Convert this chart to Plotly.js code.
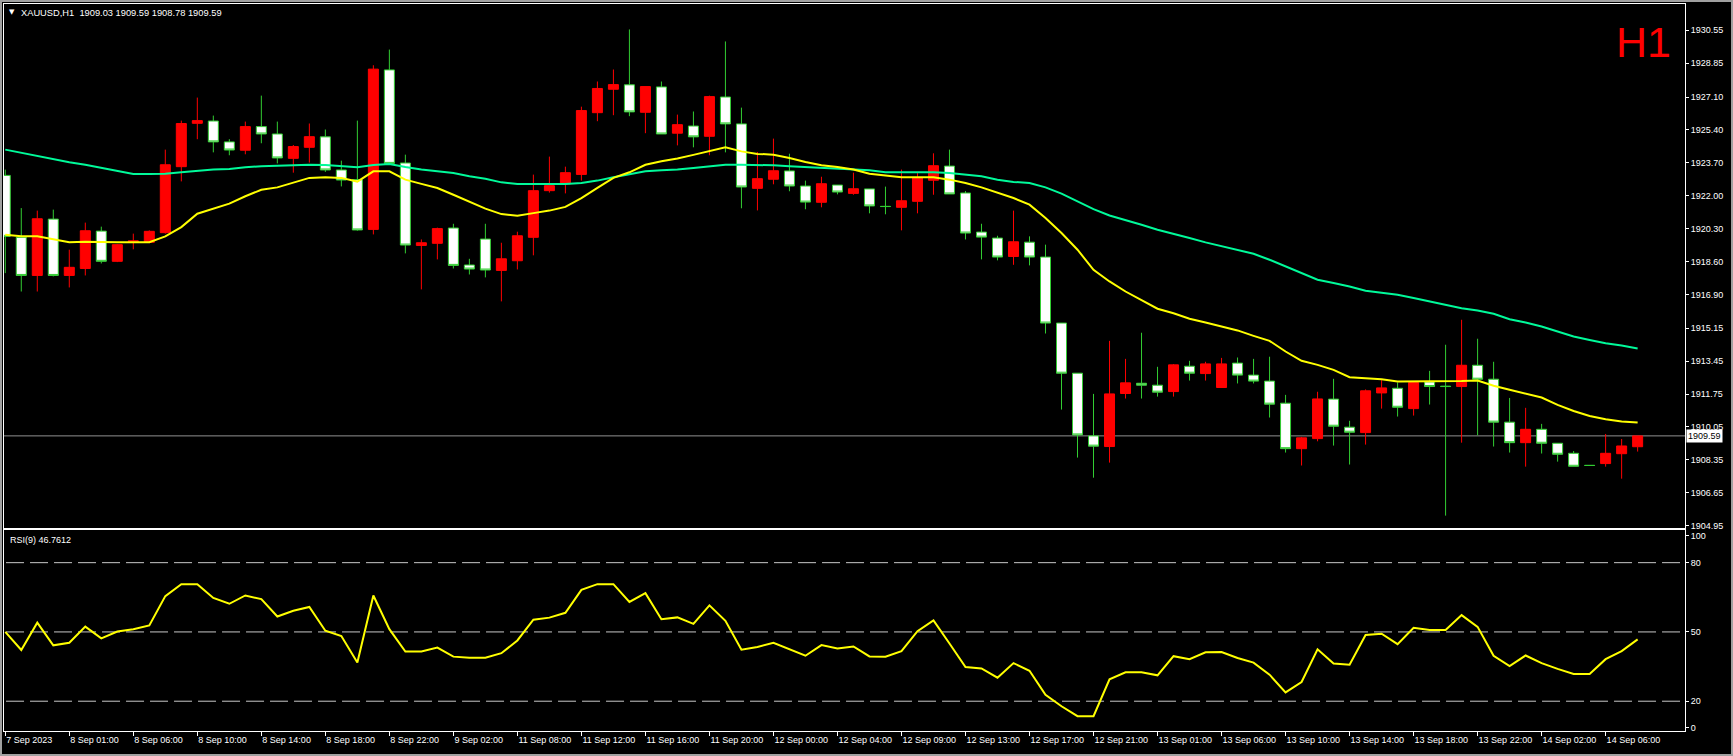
<!DOCTYPE html>
<html><head><meta charset="utf-8">
<script src="https://cdn.plot.ly/plotly-3.0.1.min.js"></script>
<style>
html,body{margin:0;padding:0;background:#000;overflow:hidden}
#wrap{position:relative;width:1733px;height:756px}
#chart{width:1733px;height:756px}
#frame{position:absolute;left:0;top:0;width:1733px;height:756px;box-sizing:border-box;border:2px solid #a0a0a0;pointer-events:none}
</style></head><body>
<div id="wrap"><div id="chart"></div><div id="frame"></div></div>
<script>
const symbolName = 'XAUUSD,H1';
const periodName = 'H1';

const openP = [
1923.05,1919.85,1917.88,1920.79,1917.88,1918.24,1920.17,1918.61,1919.59,1919.59,
1920.09,1923.50,1925.74,1925.86,1924.78,1924.35,1925.57,1925.19,1923.93,1924.50,
1925.04,1923.33,1922.83,1920.26,1928.50,1923.69,1919.43,1919.54,1920.33,1918.42,
1919.76,1918.14,1918.64,1919.85,1922.26,1922.61,1923.10,1926.29,1927.50,1927.73,
1926.31,1927.62,1925.23,1925.60,1925.07,1927.10,1925.71,1922.38,1922.85,1923.28,
1922.50,1921.66,1922.55,1922.12,1922.35,1921.45,1921.40,1921.71,1922.80,1923.53,
1922.14,1920.12,1919.81,1918.86,1919.60,1918.83,1915.42,1912.83,1909.59,1909.04,
1911.78,1912.31,1912.21,1911.88,1913.19,1912.81,1912.09,1913.35,1912.73,1912.42,
1911.28,1908.93,1909.45,1911.49,1910.04,1909.76,1911.81,1912.05,1911.00,1912.38,
1912.16,1912.14,1913.24,1912.52,1910.30,1909.24,1909.93,1909.21,1908.69,1908.07,
1908.16,1908.67,1909.03];

const highP = [
1923.35,1921.36,1921.23,1921.28,1919.21,1920.61,1920.40,1919.50,1920.04,1920.21,
1924.38,1925.88,1927.07,1926.14,1924.92,1925.83,1927.17,1925.83,1924.62,1925.73,
1925.42,1923.81,1925.88,1928.74,1929.55,1924.12,1919.74,1920.35,1920.55,1918.74,
1920.55,1919.57,1920.14,1923.09,1924.02,1923.50,1926.60,1927.90,1928.52,1930.59,
1927.64,1927.90,1926.19,1926.35,1927.17,1929.97,1926.55,1924.26,1924.95,1924.17,
1922.78,1922.98,1922.55,1923.19,1922.35,1922.47,1923.35,1923.17,1924.19,1924.38,
1922.24,1920.55,1919.93,1921.23,1919.90,1919.47,1915.42,1912.83,1911.76,1914.50,
1913.57,1914.92,1913.16,1913.30,1913.47,1913.42,1913.62,1913.64,1913.57,1913.68,
1911.71,1909.54,1911.87,1912.54,1910.37,1911.99,1912.47,1912.35,1912.42,1912.95,
1914.30,1915.59,1914.61,1913.42,1911.55,1911.04,1910.21,1909.21,1908.81,1908.07,
1909.69,1909.43,1909.59];

const lowP = [
1918.00,1917.05,1917.05,1917.83,1917.26,1917.88,1918.50,1918.57,1919.23,1919.55,
1920.04,1922.74,1924.92,1924.24,1924.09,1924.14,1924.71,1923.67,1923.19,1923.71,
1923.23,1922.48,1920.19,1920.00,1923.67,1919.02,1917.16,1918.71,1918.24,1917.93,
1917.78,1916.54,1918.19,1918.92,1922.16,1922.12,1922.78,1925.85,1926.16,1926.11,
1925.23,1925.19,1924.60,1924.50,1924.09,1924.24,1921.35,1921.24,1922.59,1922.23,
1921.30,1921.40,1922.07,1922.05,1921.09,1921.04,1920.21,1921.09,1922.05,1922.09,
1919.74,1918.71,1918.66,1918.43,1918.40,1914.88,1910.95,1908.47,1907.43,1908.21,
1911.52,1911.52,1911.62,1911.62,1912.45,1912.45,1912.09,1912.30,1912.30,1910.54,
1908.73,1908.06,1909.31,1909.09,1908.11,1909.14,1911.00,1910.59,1910.64,1911.21,
1905.47,1909.24,1909.62,1909.04,1908.73,1908.00,1908.68,1908.26,1908.02,1908.05,
1908.00,1907.38,1908.78];

const closeP = [
1919.90,1917.88,1920.81,1917.88,1918.30,1920.19,1918.61,1919.47,1919.67,1920.16,
1923.60,1925.73,1925.88,1924.78,1924.36,1925.57,1925.19,1923.95,1924.54,1925.05,
1923.33,1922.81,1920.23,1928.54,1923.67,1919.45,1919.57,1920.30,1918.40,1918.21,
1918.16,1918.74,1919.93,1922.26,1922.52,1923.19,1926.40,1927.54,1927.74,1926.33,
1927.64,1925.19,1925.67,1925.04,1927.12,1925.71,1922.45,1922.88,1923.29,1922.50,
1921.67,1922.62,1922.19,1922.36,1921.47,1921.44,1921.74,1922.92,1923.55,1922.09,
1920.07,1919.86,1918.83,1919.62,1918.83,1915.42,1912.83,1909.64,1909.06,1911.76,
1912.33,1912.21,1911.85,1913.26,1912.83,1913.31,1913.31,1912.73,1912.42,1911.23,
1908.93,1909.49,1911.50,1910.09,1909.78,1911.92,1912.07,1911.07,1912.35,1912.14,
1912.14,1913.24,1912.52,1910.30,1909.24,1909.93,1909.21,1908.64,1908.02,1908.06,
1908.69,1909.07,1909.59];

const maFast = [
1919.98,1919.90,1919.90,1919.76,1919.59,1919.62,1919.59,1919.59,1919.59,1919.60,
1919.90,1920.38,1921.07,1921.31,1921.59,1921.97,1922.31,1922.43,1922.66,1922.92,
1922.95,1922.92,1922.73,1923.26,1923.26,1922.83,1922.61,1922.40,1922.05,1921.71,
1921.33,1921.05,1920.97,1921.10,1921.23,1921.42,1921.88,1922.40,1922.92,1923.21,
1923.60,1923.78,1923.92,1924.11,1924.29,1924.50,1924.29,1924.16,1924.12,1923.95,
1923.74,1923.57,1923.48,1923.35,1923.14,1923.04,1922.95,1922.95,1922.95,1922.83,
1922.66,1922.43,1922.14,1921.88,1921.54,1920.85,1920.07,1919.21,1918.17,1917.57,
1917.05,1916.62,1916.16,1915.93,1915.64,1915.45,1915.24,1915.04,1914.76,1914.50,
1913.95,1913.47,1913.26,1913.00,1912.62,1912.57,1912.52,1912.40,1912.40,1912.40,
1912.40,1912.42,1912.45,1912.18,1911.97,1911.76,1911.57,1911.19,1910.88,1910.62,
1910.45,1910.33,1910.28];

const maSlow = [
1924.38,1924.21,1924.07,1923.90,1923.73,1923.60,1923.43,1923.26,1923.12,1923.12,
1923.14,1923.21,1923.29,1923.35,1923.38,1923.47,1923.52,1923.55,1923.57,1923.60,
1923.59,1923.52,1923.47,1923.59,1923.64,1923.48,1923.35,1923.26,1923.17,1923.00,
1922.88,1922.69,1922.61,1922.61,1922.61,1922.61,1922.66,1922.78,1922.95,1923.12,
1923.26,1923.31,1923.35,1923.43,1923.52,1923.60,1923.60,1923.60,1923.57,1923.52,
1923.47,1923.43,1923.40,1923.35,1923.31,1923.21,1923.21,1923.21,1923.21,1923.17,
1923.09,1923.00,1922.83,1922.71,1922.66,1922.43,1922.11,1921.71,1921.31,1920.98,
1920.76,1920.50,1920.24,1920.04,1919.81,1919.59,1919.38,1919.21,1919.00,1918.69,
1918.35,1918.00,1917.66,1917.49,1917.31,1917.09,1916.97,1916.88,1916.71,1916.54,
1916.36,1916.19,1916.07,1915.90,1915.62,1915.45,1915.24,1914.98,1914.73,1914.55,
1914.38,1914.26,1914.11];

const rsi9 = [
50.0,42.2,54.0,44.2,45.3,52.3,47.2,50.2,51.2,52.8,
65.5,70.7,70.7,64.7,62.2,65.8,64.2,56.7,59.2,60.8,
50.5,48.2,36.8,65.8,51.2,41.5,41.5,43.2,39.3,38.8,
38.8,40.8,46.3,55.3,56.2,58.3,68.2,70.7,70.7,63.0,
66.8,55.5,56.3,53.5,61.5,54.8,42.3,43.5,45.3,42.5,
39.7,44.3,42.8,43.7,39.4,39.3,41.7,50.3,55.0,45.0,
34.8,34.2,30.2,36.5,33.2,22.8,17.8,13.5,13.5,29.5,
32.5,32.5,31.2,39.5,38.2,41.2,41.3,38.7,36.7,31.5,
23.8,28.3,42.5,36.3,35.8,48.7,49.2,44.7,51.8,50.8,
50.8,57.3,52.2,39.7,35.2,39.8,36.5,34.0,31.8,31.8,
38.2,41.7,46.7612];

const timeLabels = ['7 Sep 2023','8 Sep 01:00','8 Sep 06:00','8 Sep 10:00','8 Sep 14:00','8 Sep 18:00',
'8 Sep 22:00','9 Sep 02:00','11 Sep 08:00','11 Sep 12:00','11 Sep 16:00','11 Sep 20:00',
'12 Sep 00:00','12 Sep 04:00','12 Sep 09:00','12 Sep 13:00','12 Sep 17:00','12 Sep 21:00',
'13 Sep 01:00','13 Sep 06:00','13 Sep 10:00','13 Sep 14:00','13 Sep 18:00','13 Sep 22:00',
'14 Sep 02:00','14 Sep 06:00'];
const barsPerTimeLabel = 4;

const priceTicks = [1930.55,1928.85,1927.10,1925.40,1923.70,1922.00,1920.30,1918.60,
1916.90,1915.15,1913.45,1911.75,1910.05,1908.35,1906.65,1904.95];
const rsiLevels = [80,50,20];
const rsiTickText = ['100','80','50','20','0'];

const bars = openP.map((_, i) => i);
const last = bars.length - 1;
const timeTickBars = timeLabels.map((_, i) => i * barsPerTimeLabel);

const xRange = [-0.08, 104.96];
const priceRange = [1904.83, 1931.905];
const rsiRange = [7.1, 93.93];
const rsiTickVals = [rsiRange[1] - 2.26, 80, 50, 20, rsiRange[0] + 1.57];

const FONT = 'Liberation Sans, Arial, sans-serif';
const UPC = '#ff0000', DNC = '#32cd32';

const traces = [
  {type:'candlestick', x:bars, open:openP, high:highP, low:lowP, close:closeP,
   xaxis:'x', yaxis:'y', whiskerwidth:0, hoverinfo:'skip',
   increasing:{fillcolor:UPC, line:{color:UPC, width:1}},
   decreasing:{fillcolor:'#ffffff', line:{color:DNC, width:1}}},
  {type:'scatter', mode:'lines', x:bars, y:maSlow, xaxis:'x', yaxis:'y',
   line:{color:'#00fa9a', width:2}, hoverinfo:'skip'},
  {type:'scatter', mode:'lines', x:bars, y:maFast, xaxis:'x', yaxis:'y',
   line:{color:'#ffff00', width:2}, hoverinfo:'skip'},
  {type:'scatter', mode:'lines', x:bars, y:rsi9, xaxis:'x2', yaxis:'y2',
   line:{color:'#ffff00', width:2}, hoverinfo:'skip'}
];

const shapes = [
  {type:'line', xref:'paper', yref:'y', x0:0, x1:1, y0:closeP[last], y1:closeP[last],
   line:{color:'#909090', width:1}, layer:'below'}
].concat(rsiLevels.map(v => ({type:'line', xref:'paper', yref:'y2', x0:0.0012, x1:1, y0:v, y1:v,
   line:{color:'#c8c8c8', width:1, dash:'18px,6px'}, layer:'below'})));

const nb = '\u00a0';
const annotations = [
  {xref:'paper', yref:'paper', x:0.0045, y:0.9885, xanchor:'center', yanchor:'middle',
   text:'▼', showarrow:false, font:{family:'DejaVu Sans', size:7, color:'#ffffff'}},
  {xref:'paper', yref:'paper', x:0.0092, y:0.9883, xanchor:'left', yanchor:'middle',
   text: symbolName + nb + nb + [openP[last], highP[last], lowP[last], closeP[last]].map(v => v.toFixed(2)).join(nb),
   showarrow:false, font:{family:FONT, size:9.3, color:'#ffffff'}},
  {xref:'paper', yref:'paper', x:0.9899, y:0.948, xanchor:'right', yanchor:'middle', xshift:5,
   text: periodName, showarrow:false, font:{family:FONT, size:43, color:'#ff0000'}},
  {xref:'paper', yref:'y', x:1, y:closeP[last], xanchor:'left', yanchor:'middle', xshift:1,
   text: closeP[last].toFixed(2), showarrow:false, bgcolor:'#ffffff', borderpad:1,
   font:{family:FONT, size:9, color:'#000000'}},
  {xref:'paper', yref:'paper', x:0.0025, y:0.2627, xanchor:'left', yanchor:'middle',
   text:'RSI(9)' + nb + rsi9[last].toFixed(4), showarrow:false,
   font:{family:FONT, size:9, color:'#ffffff'}}
];

const axBase = {showgrid:false, zeroline:false, showline:true, mirror:true,
  linecolor:'#ffffff', linewidth:1, fixedrange:true};

const layout = {
  width:1733, height:756,
  margin:{l:4, r:48, t:4, b:25, pad:0},
  paper_bgcolor:'#000000', plot_bgcolor:'#000000',
  showlegend:false,
  font:{family:FONT, size:9, color:'#ffffff'},
  boxgap:0.375, boxgroupgap:0,
  xaxis:Object.assign({}, axBase, {domain:[0,1], anchor:'y', range:xRange,
     showticklabels:false, ticks:'', rangeslider:{visible:false}}),
  xaxis2:Object.assign({}, axBase, {domain:[0,1], anchor:'y2', range:xRange,
     tickmode:'array', tickvals:timeTickBars, ticktext:timeLabels,
     ticks:'outside', ticklen:4, tickcolor:'#ffffff', ticklabelposition:'outside right',
     tickfont:{family:FONT, size:9, color:'#ffffff'}}),
  yaxis:Object.assign({}, axBase, {domain:[0.2792,1], anchor:'x', side:'right', range:priceRange,
     tickmode:'array', tickvals:priceTicks, ticktext:priceTicks.map(v => v.toFixed(2)),
     ticks:'outside', ticklen:3, tickcolor:'#ffffff',
     tickfont:{family:FONT, size:9, color:'#ffffff'}}),
  yaxis2:Object.assign({}, axBase, {domain:[0,0.2758], anchor:'x2', side:'right', range:rsiRange,
     tickmode:'array', tickvals:rsiTickVals, ticktext:rsiTickText,
     ticks:'outside', ticklen:3, tickcolor:'#ffffff',
     tickfont:{family:FONT, size:9, color:'#ffffff'}}),
  shapes:shapes,
  annotations:annotations
};

Plotly.newPlot('chart', traces, layout, {staticPlot:true, displayModeBar:false});
</script>
</body></html>
